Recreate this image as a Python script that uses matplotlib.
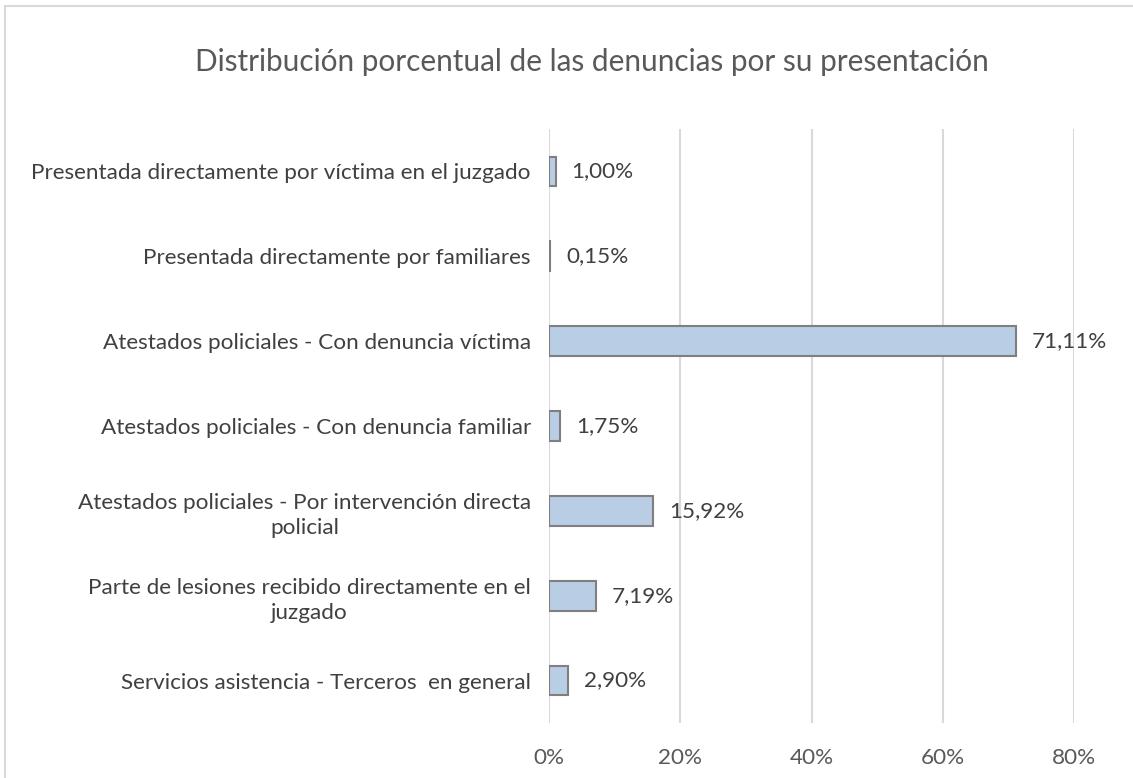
import matplotlib
matplotlib.use("Agg")
import matplotlib.pyplot as plt
from matplotlib.patches import Rectangle

categories = [
    "Presentada directamente por víctima en el juzgado",
    "Presentada directamente por familiares",
    "Atestados policiales - Con denuncia víctima",
    "Atestados policiales - Con denuncia familiar",
    "Atestados policiales - Por intervención directa\npolicial",
    "Parte de lesiones recibido directamente en el\njuzgado",
    "Servicios asistencia - Terceros  en general",
]
values = [1.00, 0.15, 71.11, 1.75, 15.92, 7.19, 2.90]
value_labels = ["1,00%", "0,15%", "71,11%", "1,75%", "15,92%", "7,19%", "2,90%"]
xticks = [0, 20, 40, 60, 80]
xtick_labels = ["0%", "20%", "40%", "60%", "80%"]
title = "Distribución porcentual de las denuncias por su presentación"

plt.rcParams['font.family'] = ['Lato', 'DejaVu Sans']

W, H = 1133, 778
fig = plt.figure(figsize=(W / 100, H / 100), dpi=100)
fig.patch.set_facecolor("white")

# chart area border (only left and top visible in the crop)
fig.patches.append(Rectangle((5 / W, -0.1), 1.2, (1 - 6 / H) + 0.1,
                             transform=fig.transFigure, fill=False,
                             edgecolor="#D9D9D9", linewidth=1.5))

FS = 16.2
ax = fig.add_axes([549 / W, 1 - 723 / H, (1074 - 549) / W, (723 - 129) / H])
ypos = list(range(len(categories)))
ax.barh(ypos, values, height=0.35, color="#B9CDE5", edgecolor="#7F7F7F",
        linewidth=1.5, zorder=3)
ax.set_ylim(len(categories) - 0.5, -0.5)
ax.set_xlim(0, 80)
ax.set_xticks(xticks)
ax.set_xticklabels(xtick_labels)
ax.set_yticks(ypos)
ax.set_yticklabels(categories, multialignment="center", linespacing=1.3)
for s in ax.spines.values():
    s.set_visible(False)
ax.grid(axis="x", color="#D9D9D9", linewidth=1.5, zorder=0)
ax.tick_params(axis="both", length=0, colors="#595959", labelsize=FS)
ax.tick_params(axis="y", pad=13, labelcolor="#404040")
ax.tick_params(axis="x", pad=18)

for y, v, lab in zip(ypos, values, value_labels):
    ax.annotate(lab, (v, y), xytext=(16, 0), textcoords="offset pixels",
                ha="left", va="center", fontsize=FS, color="#404040", zorder=4)

fig.text(592 / W, 1 - 62 / H, title, ha="center", va="center",
         fontsize=21.4, color="#595959")

fig.savefig("out.png", dpi=100, facecolor="white")
